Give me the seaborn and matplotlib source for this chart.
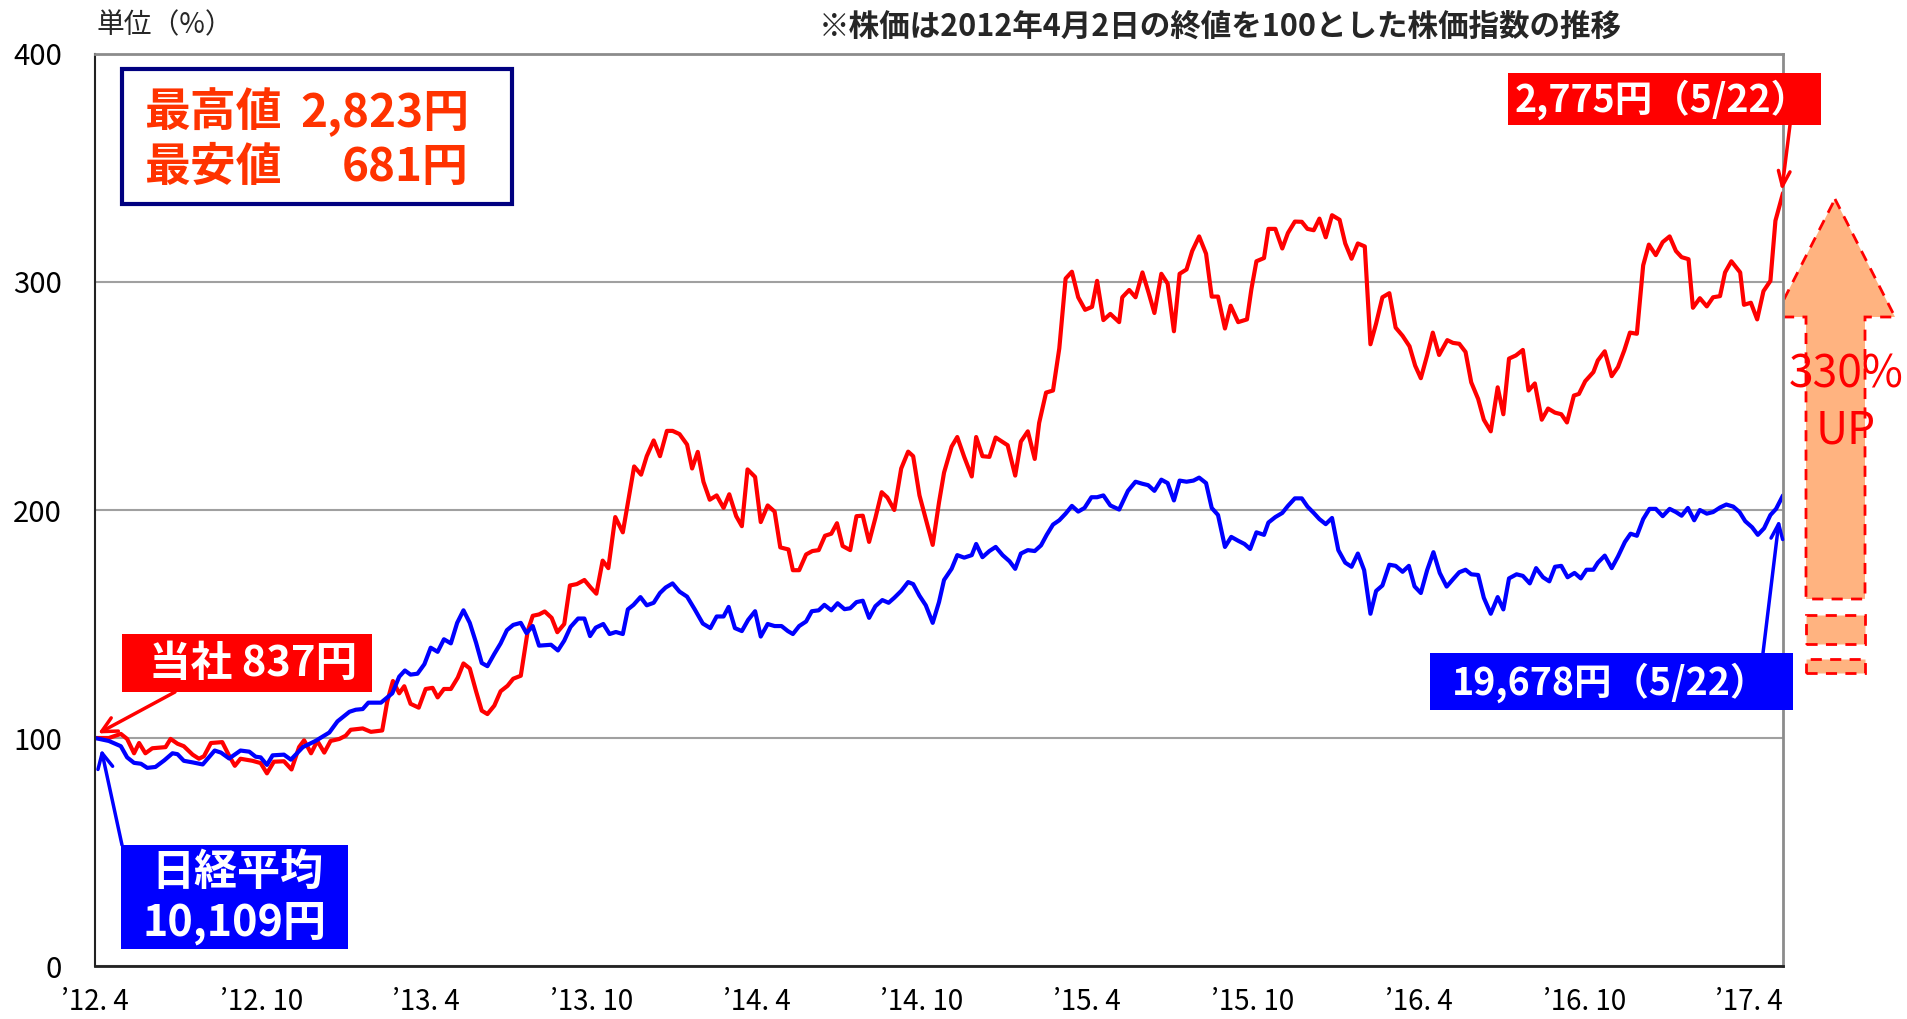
import numpy as np
import pandas as pd
import matplotlib
matplotlib.use("Agg")
import matplotlib.pyplot as plt
from matplotlib.patches import Rectangle, Polygon
import seaborn as sns

W, H = 1907, 1019

# ---------------- Data: weekly closes, 2012/4/2 close = 100 ---------------- #
# x = weeks since 2012/4/2 (last point 2017/5/22)
red_week = [0, 2.2, 4.1, 5.1, 6.2, 7.0, 8.0, 9.1, 11.2, 12.0, 13.1, 14.1, 15.5, 16.5, 17.3, 18.4,
            20.2, 21.3, 22.2, 23.1, 25.0, 26.3, 27.3, 28.4, 30.0, 31.2, 32.4, 33.2, 34.3, 35.3,
            36.4, 37.4, 38.8, 39.8, 40.6, 42.5, 43.8, 45.6, 46.4, 47.3, 48.3, 49.1, 50.1, 51.4,
            52.5, 53.6, 54.4, 55.4, 56.5, 57.6, 58.5, 59.5, 60.5, 61.4, 62.3, 63.4, 64.4, 65.5,
            66.4, 67.6, 68.7, 69.5, 70.5, 71.4, 72.5, 73.4, 74.5, 75.4, 76.5, 77.7, 78.7, 79.6,
            80.6, 81.5, 82.6, 83.8, 85.6, 86.7, 87.6, 88.7, 89.7, 90.8, 91.7, 92.8, 94.0, 94.8,
            95.7, 96.6, 97.6, 98.7, 99.8, 100.7, 101.8, 102.7, 103.6, 104.8, 105.7, 106.8, 107.9,
            108.8, 110.1, 110.8, 111.8, 112.9, 113.9, 114.9, 115.9, 116.9, 117.8, 118.7, 119.9,
            120.9, 121.9, 122.9, 123.9, 124.9, 125.8, 126.9, 128.0, 129.1, 129.9, 130.9, 131.9,
            133.0, 134.0, 134.8, 136.0, 136.9, 138.0, 139.2, 139.9, 140.9, 142.0, 143.0, 144.9,
            146.1, 147.0, 148.1, 149.2, 149.9, 151.0, 152.1, 153.1, 154.1, 155.1, 156.1, 157.2,
            158.3, 159.1, 160.1, 161.2, 162.6, 163.1, 164.2, 165.2, 166.3, 167.3, 168.2, 169.3,
            170.3, 171.3, 172.2, 173.3, 174.2, 175.3, 176.4, 177.3, 178.3, 179.4, 180.3, 181.5,
            182.9, 183.6, 184.4, 185.6, 186.3, 187.4, 188.5, 189.4, 190.5, 191.6, 192.5, 193.5,
            194.4, 195.4, 196.4, 197.6, 198.5, 199.5, 200.5, 201.6, 202.5, 203.4, 204.4, 205.5,
            206.5, 207.6, 208.7, 209.6, 210.5, 211.5, 212.4, 213.4, 214.7, 215.6, 216.6, 217.6,
            218.5, 219.6, 220.5, 221.6, 222.7, 223.6, 224.5, 225.6, 226.7, 227.6, 228.6, 229.7,
            230.7, 231.8, 232.8, 233.7, 234.8, 235.6, 236.6, 237.9, 238.6, 239.7, 240.8, 241.8,
            242.8, 243.7, 244.8, 245.8, 246.7, 247.8, 248.9, 250.0, 251.0, 251.9, 253.0, 253.7,
            254.8, 255.9, 256.9, 258.0, 258.8, 259.8, 261.2, 261.8, 262.9, 263.9, 264.9, 266.0,
            266.8, 268.0]
red_value = [100, 100, 101.8, 99.6, 93.3, 97.8, 93.3, 95.5, 96, 99.6, 97.5, 96.4, 92.7, 90.9, 92, 97.8,
             98.2, 92.2, 87.8, 90.9, 90, 89, 84.5, 89.6, 89.8, 86.2, 96, 99, 93.3, 98.7,
             93.6, 98.7, 99.6, 101, 103.6, 104.2, 102.7, 103.3, 116, 125, 119.6, 122.7, 115, 113.3,
             121.5, 122, 117.8, 121.5, 121.5, 126.5, 132.7, 130.5, 120.5, 112, 110.5, 114.2, 120.5, 122.9,
             126, 127.3, 146.9, 153.6, 154.2, 155.5, 152.7, 146.4, 150, 166.9, 167.5, 169.3, 166, 163.3,
             177.8, 174.5, 196.9, 190.2, 219.1, 215.5, 223.6, 230.5, 223.6, 234.7, 234.7, 233.3, 228.7, 218.2,
             225.5, 212.4, 204.5, 206.4, 200.9, 206.9, 197.3, 192.9, 217.8, 214.5, 194.7, 202, 199.3,
             183.6, 182.7, 173.6, 173.6, 180.5, 182, 182.4, 188.7, 189.6, 194.2, 184.2, 182.4,
             197.3, 197.5, 186, 196.5, 207.8, 205.5, 200, 218.2, 225.6, 223.6, 206.4, 196,
             184.7, 203.3, 216.4, 227.8, 232, 223.3, 214.7, 232, 223.6, 223.3, 231.8, 228.4,
             215.1, 230, 234.5, 222.4, 238.2, 251.5, 252.4, 270.9, 301.5, 304.5, 293.3, 287.8,
             289.1, 300.5, 283.3, 286, 282.4, 293.3, 296.5, 293.3, 304.2, 295.1, 286.4, 303.6,
             299.3, 278.4, 303.6, 305.5, 313.6, 320, 312.4, 293.6, 293.6, 279.6, 289.6, 282.4,
             283.6, 296.9, 309.1, 310.5, 323.3, 323.3, 314.7, 321.5, 326.5, 326.4, 323.3, 322.7,
             327.8, 319.6, 329.3, 327.3, 316.9, 310.2, 316.9, 315.6, 272.7, 281.8, 293.3, 295.1,
             280, 276.4, 271.8, 263.3, 257.8, 267.8, 277.8, 268, 274.5, 273.3, 272.9, 269.3,
             256, 248.7, 239.6, 234.5, 253.8, 242, 266.4, 267.8, 270.2, 252.4, 255.5, 239.6,
             244.5, 242.7, 242, 238.4, 250.2, 250.9, 256.5, 260.5, 265.6, 269.6, 258.7, 262.7,
             270, 277.8, 277.3, 307.3, 316.4, 311.8, 317.5, 320, 313.6, 310.9, 310, 288.7,
             292.9, 289.3, 293.3, 293.8, 304.2, 309.1, 304.2, 290, 290.9, 283.6, 296, 300.5,
             326.9, 339]

blue_week = [0, 2.2, 4.1, 5.1, 6.2, 7.3, 8.3, 9.6, 11.0, 12.3, 13.1, 14.1, 15.5, 17.1, 19.0, 20.0,
             21.3, 23.1, 24.5, 25.5, 26.3, 27.3, 28.2, 30.0, 31.1, 33.0, 35.0, 37.2, 38.5, 40.4,
             41.4, 42.5, 43.4, 45.4, 47.2, 48.3, 49.2, 50.1, 51.2, 52.3, 53.3, 54.4, 55.4, 56.5,
             57.5, 58.5, 59.5, 60.5, 61.4, 62.3, 63.4, 64.4, 65.4, 66.4, 67.6, 68.5, 69.5, 70.5,
             72.4, 73.5, 74.5, 75.5, 76.7, 77.7, 78.6, 79.5, 80.7, 81.7, 82.7, 83.8, 84.6, 85.5,
             86.6, 87.6, 88.7, 89.7, 90.6, 91.7, 92.8, 94.0, 95.2, 96.5, 97.7, 98.7, 99.8, 100.6,
             101.6, 102.7, 103.7, 104.8, 105.7, 106.8, 107.9, 109.0, 110.0, 110.8, 111.8, 112.9,
             113.8, 114.9, 115.8, 116.9, 117.9, 119.0, 119.9, 120.9, 121.9, 122.9, 123.9, 125.0,
             126.0, 126.9, 128.0, 129.1, 129.9, 130.9, 131.9, 133.0, 134.0, 134.8, 136.0, 136.9,
             138.0, 139.2, 139.9, 140.9, 142.0, 143.0, 144.1, 145.2, 146.1, 147.0, 148.1, 149.2,
             150.2, 151.1, 152.1, 153.1, 154.1, 155.1, 156.1, 157.1, 158.2, 159.1, 160.1, 161.2,
             162.6, 164.0, 165.2, 166.3, 167.2, 168.2, 169.3, 170.3, 171.3, 172.2, 173.3, 174.4,
             175.3, 176.4, 177.3, 178.3, 179.4, 180.4, 181.5, 182.5, 183.4, 184.4, 185.6, 186.3,
             187.4, 188.5, 189.4, 190.5, 191.6, 192.5, 193.5, 194.4, 195.4, 196.4, 197.4, 198.5,
             199.5, 200.5, 201.5, 202.5, 203.4, 204.4, 205.5, 206.5, 207.6, 208.6, 209.5, 210.5,
             211.5, 212.5, 213.5, 214.6, 215.6, 216.6, 217.6, 218.5, 219.6, 220.5, 221.6, 222.7,
             223.6, 224.5, 225.7, 226.7, 227.8, 228.8, 229.9, 230.9, 231.8, 232.8, 233.8, 234.9,
             235.9, 236.8, 237.9, 238.6, 239.7, 240.8, 241.8, 242.9, 243.8, 244.8, 245.8, 246.8,
             247.8, 248.9, 250.0, 251.0, 251.9, 252.9, 253.9, 254.8, 255.9, 256.9, 258.0, 259.0,
             260.1, 261.1, 262.0, 263.1, 264.0, 265.0, 266.0, 266.9, 268.0]
blue_value = [100, 98.7, 96.4, 91.5, 89.1, 88.7, 86.9, 87.3, 90.2, 93.3, 92.9, 90, 89.3, 88.4, 94.5, 93.6,
              91, 94.5, 94, 91.8, 91.5, 88.2, 92.4, 92.7, 90.5, 96, 98.7, 102.4, 107.3, 111.5,
              112.4, 112.7, 115.5, 115.5, 119.6, 126.9, 129.6, 127.8, 128.2, 132.4, 139.6, 137.8, 143.3, 141.5,
              150.5, 156, 150.5, 141.8, 132.9, 131.5, 136.9, 141.5, 147.3, 149.6, 150.5, 146, 149.1, 140.5,
              140.9, 138.4, 142.7, 148.7, 152.4, 152.4, 144.7, 148.4, 150, 145.6, 146.5, 145.6, 156.4, 158.4,
              161.8, 158.2, 159.3, 163.6, 166, 167.8, 164.2, 162, 156.5, 150.2, 148.2, 153.3, 153.3, 157.5,
              148.2, 146.9, 151.8, 155.6, 144.5, 150, 149.1, 149.1, 146.9, 145.6, 149.1, 151.1,
              155.6, 156, 158.4, 156, 159.1, 156.5, 156.9, 159.6, 160.2, 152.7, 157.8, 160.5,
              159.3, 161.5, 164.5, 168.4, 167.5, 162.4, 158.2, 150.5, 159.6, 169.3, 174.2, 180.2,
              179.1, 180.2, 185.1, 179.3, 182, 183.8, 180.2, 177.5, 174.2, 180.9, 182.4, 182,
              184.5, 189.1, 193.6, 195.5, 198.4, 201.8, 199.3, 200.9, 205.6, 205.6, 206.4, 202,
              200.2, 208.4, 212.4, 211.5, 210.9, 208.4, 213.3, 211.8, 204.2, 212.9, 212.4, 212.9,
              214.2, 211.8, 200.9, 197.8, 183.8, 188.2, 186.5, 185.1, 182.9, 190.2, 189.1, 194.5,
              196.9, 198.7, 201.8, 205.1, 205.1, 201.5, 198.7, 196, 193.8, 196.5, 182.4, 176.9,
              175.1, 180.9, 173.6, 154.5, 164.5, 166.9, 176, 175.5, 172.9, 175.5, 166.5, 163.6,
              173.6, 181.5, 172.4, 166.4, 169.6, 172.7, 173.8, 171.8, 171.5, 161.5, 154.5, 161.8,
              156.4, 170, 171.8, 171.1, 167.8, 174.5, 170.5, 168.7, 175.1, 175.5, 170.5, 172.4,
              170, 173.8, 173.8, 176.9, 180, 174.5, 179.6, 186, 189.6, 188.7, 196, 200.5,
              200.5, 197.3, 200.5, 199.1, 197.5, 200.9, 195.5, 200, 198.4, 199.1, 201.1, 202.4,
              201.5, 199.1, 195.1, 192.4, 189.1, 192, 197.8, 200.5, 206.4]

tick_week = [0, 26.5, 52.5, 78.9, 105.1, 131.3, 157.5, 183.8, 210.2, 236.5, 262.6]
tick_label = ["’12. 4", "’12. 10", "’13. 4", "’13. 10", "’14. 4", "’14. 10",
              "’15. 4", "’15. 10", "’16. 4", "’16. 10", "’17. 4"]
y_ticks = [0, 100, 200, 300, 400]

series_names = ["当社", "日経平均"]
series_colors = {"当社": "#FF0000", "日経平均": "#0000FF"}

df = pd.concat([
    pd.DataFrame({"week": red_week, "index": red_value, "series": series_names[0]}),
    pd.DataFrame({"week": blue_week, "index": blue_value, "series": series_names[1]}),
], ignore_index=True)

# ---------------- Plot ---------------- #
sns.set_theme(style="white")
plt.rcParams["font.family"] = ["Noto Sans CJK JP", "DejaVu Sans"]


def fp(x, y):
    # reference pixel position -> figure fraction
    return (x / W, 1 - y / H)


fig = plt.figure(figsize=(W / 100, H / 100), dpi=100)
ax = fig.add_axes([95 / W, 1 - 966 / H, (1783 - 95) / W, (966 - 54) / H])

sns.lineplot(data=df, x="week", y="index", hue="series", hue_order=series_names,
             palette=series_colors, linewidth=3, estimator=None, sort=False,
             legend=False, ax=ax)

ax.set_xlim(0, 268)
ax.set_ylim(0, 400)
ax.set_xticks(tick_week, tick_label)
ax.set_yticks(y_ticks)
ax.set_xlabel("")
ax.set_ylabel("")
ax.yaxis.grid(True, color="#A0A0A0", linewidth=1.5)
ax.xaxis.grid(False)
ax.tick_params(axis="x", direction="in", length=8, width=1, color="#555555",
               pad=15, labelsize=20, labelcolor="black")
ax.tick_params(axis="y", direction="in", length=7, width=1, color="#555555",
               pad=24, labelsize=21, labelcolor="black")
for side in ["top", "right"]:
    ax.spines[side].set_color("#8C8C8C")
    ax.spines[side].set_linewidth(2)
ax.spines["left"].set_color("#222222")
ax.spines["left"].set_linewidth(1.5)
ax.spines["bottom"].set_color("#222222")
ax.spines["bottom"].set_linewidth(2)

# header texts
fig.text(*fp(96, 25), "単位（%）", fontsize=20, ha="left", va="center")
fig.text(*fp(1220, 27), "※株価は2012年4月2日の終値を100とした株価指数の推移",
         fontsize=22, fontweight="bold", ha="center", va="center")


def rect(x0, y0, x1, y1, **kw):
    fig.add_artist(Rectangle(fp(x0, y1), (x1 - x0) / W, (y1 - y0) / H,
                             transform=fig.transFigure, **kw))


# high / low box
rect(122, 69, 512, 204, facecolor="white", edgecolor="#000080", linewidth=3, zorder=5)
hl_color = "#FF3300"
fig.text(*fp(144, 113), "最高値", fontsize=33, fontweight="bold", color=hl_color,
         ha="left", va="center", zorder=6)
fig.text(*fp(469, 113), "2,823円", fontsize=33, fontweight="bold", color=hl_color,
         ha="right", va="center", zorder=6)
fig.text(*fp(144, 168), "最安値", fontsize=33, fontweight="bold", color=hl_color,
         ha="left", va="center", zorder=6)
fig.text(*fp(469, 168), "681円", fontsize=33, fontweight="bold", color=hl_color,
         ha="right", va="center", zorder=6)

# value labels with arrows
arrow_kw = dict(shrinkA=0, shrinkB=0, lw=2.5)
ax.annotate("", xy=(0.5, 102), xytext=fp(175, 692), textcoords="figure fraction",
            arrowprops=dict(arrowstyle="->,head_length=0.9,head_width=0.45",
                            color="#FF0000", **arrow_kw),
            annotation_clip=False, zorder=6)
ax.annotate("", xy=(1.0, 95), xytext=fp(122, 845), textcoords="figure fraction",
            arrowprops=dict(arrowstyle="->,head_length=0.9,head_width=0.45",
                            color="#0000FF", **arrow_kw),
            annotation_clip=False, zorder=6)
ax.annotate("", xy=(267.8, 340), xytext=fp(1790, 125), textcoords="figure fraction",
            arrowprops=dict(arrowstyle="->,head_length=0.9,head_width=0.35",
                            color="#FF0000", **arrow_kw),
            annotation_clip=False, zorder=6)
ax.annotate("", xy=(267.4, 196), xytext=fp(1763, 653), textcoords="figure fraction",
            arrowprops=dict(arrowstyle="->,head_length=0.9,head_width=0.35",
                            color="#0000FF", **arrow_kw),
            annotation_clip=False, zorder=6)

rect(122, 634, 372, 692, facecolor="#FF0000", edgecolor="none", zorder=5)
fig.text(*fp(253, 664), "当社 837円", fontsize=30, fontweight="bold", color="white",
         ha="center", va="center", zorder=6)

rect(121, 845, 348, 949, facecolor="#0000FF", edgecolor="none", zorder=5)
fig.text(*fp(237, 872), "日経平均", fontsize=31, fontweight="bold", color="white",
         ha="center", va="center", zorder=6)
fig.text(*fp(234, 923), "10,109円", fontsize=31, fontweight="bold", color="white",
         ha="center", va="center", zorder=6)

rect(1508, 73, 1821, 125, facecolor="#FF0000", edgecolor="none", zorder=5)
fig.text(*fp(1662, 100), "2,775円（5/22）", fontsize=27, fontweight="bold", color="white",
         ha="center", va="center", zorder=6)

rect(1430, 653, 1793, 710, facecolor="#0000FF", edgecolor="none", zorder=5)
fig.text(*fp(1610, 683), "19,678円（5/22）", fontsize=27, fontweight="bold", color="white",
         ha="center", va="center", zorder=6)

# big "UP" arrow behind the plot area
arrow_fill = "#FFB380"
dash = dict(edgecolor="#FF0000", linewidth=2, linestyle=(0, (4, 3)))
up_pts = [fp(1835, 199), fp(1895, 317), fp(1865, 317), fp(1865, 599),
          fp(1806, 599), fp(1806, 317), fp(1775, 317)]
fig.add_artist(Polygon(up_pts, closed=True, transform=fig.transFigure,
                       facecolor=arrow_fill, zorder=-1, **dash))
rect(1806, 615, 1865, 644, facecolor=arrow_fill, zorder=-1, **dash)
rect(1806, 659, 1865, 673, facecolor=arrow_fill, zorder=-1, **dash)
fig.text(*fp(1846, 375), "330%", fontsize=32, color="#FF0000",
         ha="center", va="center", zorder=6)
fig.text(*fp(1846, 430), "UP", fontsize=32, color="#FF0000",
         ha="center", va="center", zorder=6)

fig.savefig("out.png", dpi=100)
